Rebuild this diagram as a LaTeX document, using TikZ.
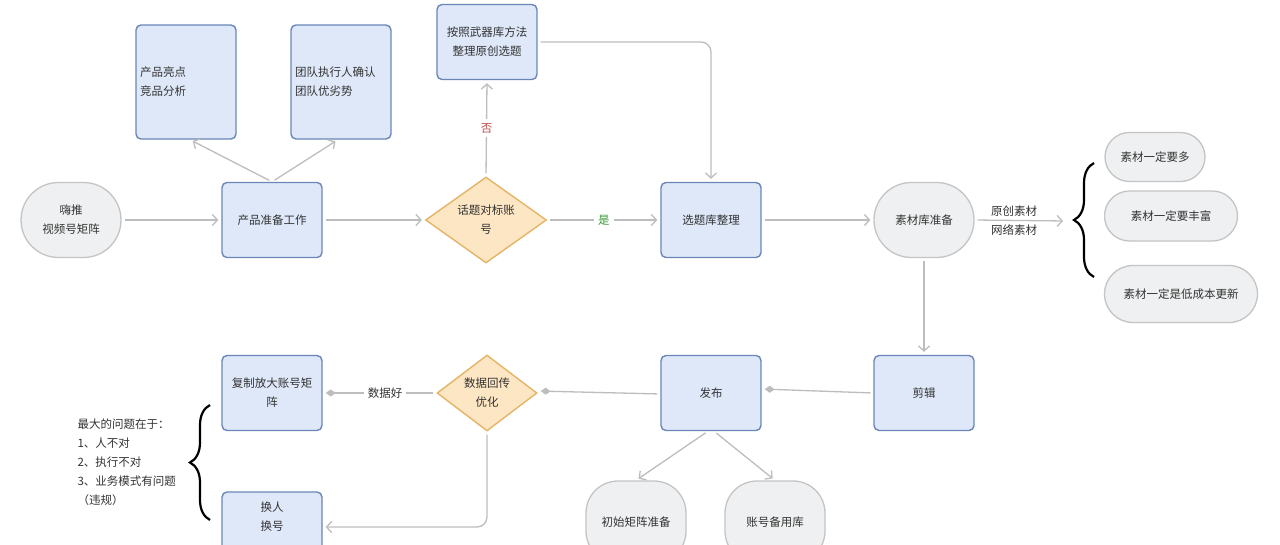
\documentclass[tikz,border=0pt]{standalone}
\usepackage{fontspec}
\setmainfont{Noto Sans CJK SC}
\usetikzlibrary{arrows.meta,shapes.geometric,shapes.misc,decorations.pathreplacing,calc}
\definecolor{bfill}{HTML}{DEE8F9}
\definecolor{bdraw}{HTML}{6B86B6}
\definecolor{gfill}{HTML}{EFF0F1}
\definecolor{gdraw}{HTML}{C4C4C4}
\definecolor{dfill}{HTML}{FDE6C3}
\definecolor{ddraw}{HTML}{E4B566}
\definecolor{edgec}{HTML}{BDBDBD}
\definecolor{txt}{HTML}{333333}
\definecolor{nored}{HTML}{C0504D}
\definecolor{yesgreen}{HTML}{3A9A3A}
\begin{document}
\begin{tikzpicture}[x=1pt,y=-1pt,
 every node/.style={font=\fontsize{11.5}{19}\selectfont, text=txt},
 bluebox/.style={draw=bdraw, fill=bfill, line width=1.4pt, rounded corners=5pt, minimum width=100pt, minimum height=75pt, inner sep=0pt, align=center},
 pill/.style={rounded rectangle, draw=gdraw, fill=gfill, line width=1.3pt, inner sep=0pt, align=center},
 roundpill/.style={draw=gdraw, fill=gfill, line width=1.3pt, rounded corners=32pt, inner sep=0pt, minimum width=100pt, minimum height=82pt},
 dia/.style={diamond, draw=ddraw, fill=dfill, line width=1.4pt, inner sep=0pt},
 conn/.style={draw=edgec, line width=1.3pt, shorten >=3pt, shorten <=3pt},
 arr/.style={conn, -{Straight Barb[length=5pt,width=11pt]}},
 dtip/.style={conn, -{Diamond[length=10pt,width=7pt,fill=edgec]}},
 gap/.style={fill=white, inner sep=4pt},
 bracec/.style={draw=black, line width=2.2pt, decorate, decoration={brace, amplitude=20pt}},
]
\useasboundingbox (0,0) rectangle (1280,544);
\clip (0,0) rectangle (1280,544);
\fill[white] (0,0) rectangle (1280,544);

% nodes
\node[pill, minimum width=100pt, minimum height=75pt] (ht) at (71,220) {嗨推\\视频号矩阵};
\node[bluebox] (pp) at (272,220) {产品准备工作};
\node[bluebox, minimum height=114pt, align=left, text width=92pt, inner xsep=4pt] (ld) at (186,82) {产品亮点\\竞品分析};
\node[bluebox, minimum height=114pt, align=left, text width=92pt, inner xsep=4pt] (td) at (341,82) {团队执行人确认\\团队优劣势};
\node[dia, minimum width=121pt, minimum height=86pt] (d1) at (486,220) {};
\node[align=center] (d1t) at (d1) {话题对标账\\号};
\node[bluebox] (wq) at (487,42) {按照武器库方法\\整理原创选题};
\node[bluebox] (xt) at (711,220) {选题库整理};
\node[pill, minimum width=100pt, minimum height=75pt] (sc) at (924,220) {素材库准备};
\node[pill, minimum width=100pt, minimum height=49pt] (s1) at (1155,157) {素材一定要多};
\node[pill, minimum width=133pt, minimum height=50pt] (s2) at (1171,216) {素材一定要丰富};
\node[pill, minimum width=153pt, minimum height=57pt] (s3) at (1181,294) {素材一定是低成本更新};
\node[bluebox] (jj) at (924,393) {剪辑};
\node[bluebox] (fb) at (711,393) {发布};
\node[dia, minimum width=100pt, minimum height=76pt] (d2) at (487,393) {};
\node[align=center] (d2t) at (d2) {数据回传\\优化};
\node[bluebox] (fz) at (272,393) {复制放大账号矩\\阵};
\node[bluebox, minimum height=74pt] (hr) at (272,529) {};
\node[align=center] (hrt) at (272,516.5) {换人\\换号};
\node[roundpill] (c1) at (636,522) {初始矩阵准备};
\node[roundpill] (c2) at (775,522) {账号备用库};
\node[align=left, anchor=west] (q) at (74,462) {最大的问题在于：\\1、人不对\\2、执行不对\\3、业务模式有问题\\（违规）};
\coordinate (bt) at (1066,221);

% connectors
\draw[arr] (ht.east) -- (pp.west);
\draw[arr] (pp.north) -- ($(ld.south)+(4,0)$);
\draw[arr] (pp.north) -- ($(td.south)+(-3,0)$);
\draw[arr] (pp.east) -- (d1.west);
\draw[arr] (d1.north) -- node[gap, text=nored] (no) {否} (wq.south);
\draw[arr] (d1.east) -- node[gap, text=yesgreen] (yes) {是} (xt.west);
\draw[arr, rounded corners=10pt] (wq.east) -| (xt.north);
\draw[arr] (xt.east) -- (sc.west);
\draw[arr] (sc.east) -- (bt);
\node[align=center] (lbl) at (1014,221) {原创素材\\网络素材};
\draw[arr] (sc.south) -- (jj.north);
\draw[dtip] (jj.west) -- ($(fb.east)+(0,-4)$);
\draw[dtip] ($(fb.west)+(0,1)$) -- ($(d2.east)+(0,-2)$);
\draw[dtip] (d2.west) -- node[gap, pos=0.45] (good) {数据好} (fz.east);
\draw[arr, rounded corners=10pt] (d2.south) |- ($(hr.east)+(0,-2)$);
\draw[arr] ($(fb.south)+(-3,0)$) -- (c1.north);
\draw[arr] ($(fb.south)+(3,0)$) -- (c2.north);

% braces
\path[bracec] (1094,277) -- (1094,163);
\path[bracec] (210,520) -- (210,405);
\end{tikzpicture}
\end{document}
